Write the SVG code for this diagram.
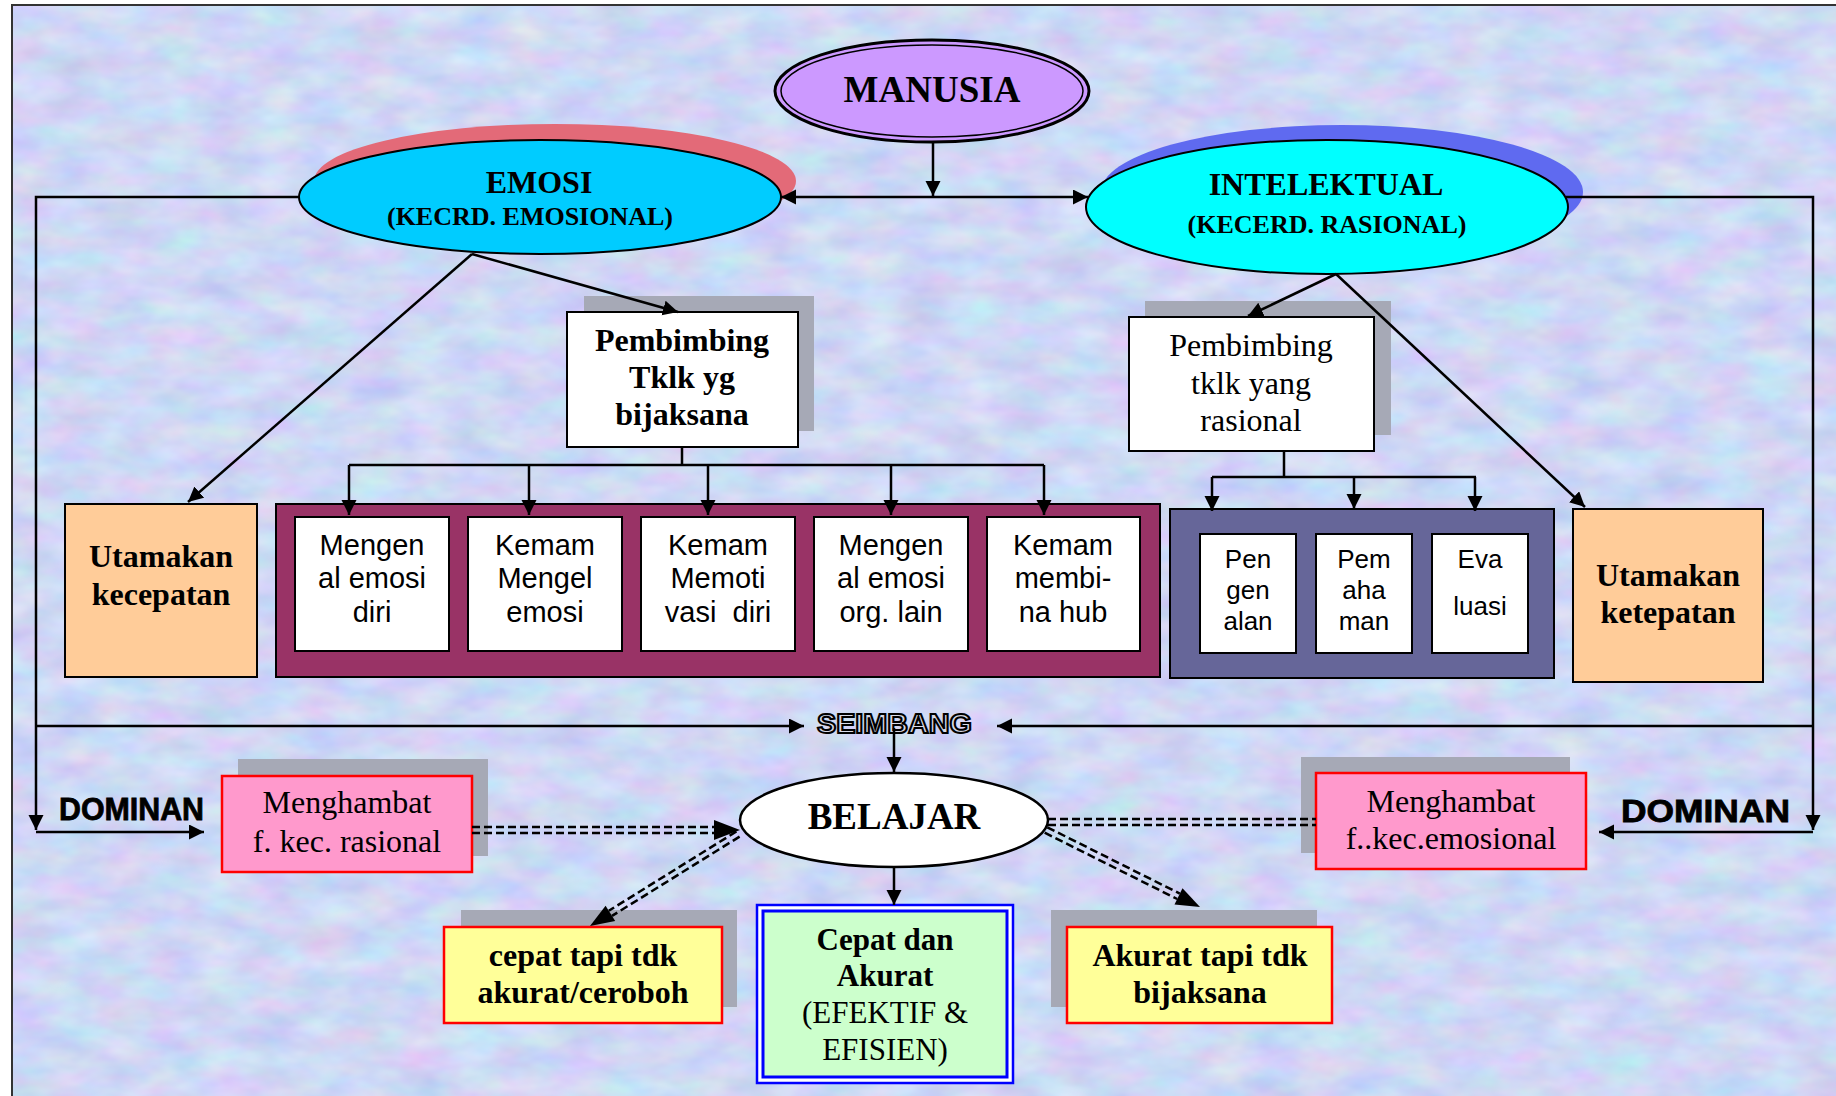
<svg xmlns="http://www.w3.org/2000/svg" width="1836" height="1096" viewBox="0 0 1836 1096">
<style>
.serif{font-family:"Liberation Serif","Times New Roman",serif}
.sans{font-family:"Liberation Sans",Arial,sans-serif}
.b{font-weight:bold}
.c{text-anchor:middle}
.ln{fill:none;stroke:#000;stroke-width:2.5}
.dl{fill:none;stroke:#000;stroke-width:2.5;stroke-dasharray:8 4}
.shadow{fill:#a6a9b6}
.pink{fill:#ff99cc;stroke:#ff0000;stroke-width:2.5}
.yellow{fill:#ffff99;stroke:#ff0000;stroke-width:2.5}
.orange{fill:#ffcc99;stroke:#000;stroke-width:2}
.white{fill:#fff;stroke:#000;stroke-width:2}
.t32{font-size:32px}
.t29{font-size:29px}
.t26{font-size:26px}
</style>
<defs>
<filter id="tex" x="0" y="0" width="100%" height="100%" color-interpolation-filters="sRGB">
<feTurbulence type="fractalNoise" baseFrequency="0.02 0.04" numOctaves="3" seed="7"/>
<feColorMatrix type="matrix" values="0.22 0 0 0 0.7  0 0.2 0 0 0.745  0 0 0.1 0 0.91  0 0 0 0 1"/>
</filter>
<marker id="ah" markerWidth="16" markerHeight="16" refX="15" refY="7.5" orient="auto" markerUnits="userSpaceOnUse">
<path d="M0,0 L15,7.5 L0,15 z" fill="#000"/>
</marker>
</defs>

<g id="background">
<rect x="0" y="0" width="1836" height="1096" fill="#fff"/>
<rect x="12" y="5" width="1824" height="1091" filter="url(#tex)"/>
<path d="M12,1096 V5 H1836" fill="none" stroke="#333" stroke-width="2"/>
</g>

<g id="manusia">
<ellipse cx="932" cy="91" rx="157" ry="51" fill="#cc99ff" stroke="#000" stroke-width="3"/>
<ellipse cx="932" cy="91" rx="151" ry="46" fill="none" stroke="#000" stroke-width="1.5"/>
<text x="932" y="102" class="serif b c" font-size="37">MANUSIA</text>
</g>

<g id="emosi">
<ellipse cx="555" cy="181" rx="241" ry="57" fill="#e36a78"/>
<ellipse cx="540" cy="197" rx="241" ry="57" fill="#00ccff" stroke="#000" stroke-width="2"/>
<text x="539" y="193" class="serif b c t32">EMOSI</text>
<text x="530" y="225" class="serif b c t26">(KECRD. EMOSIONAL)</text>
</g>

<g id="intelektual">
<ellipse cx="1342" cy="192" rx="241" ry="67" fill="#5f6af0"/>
<ellipse cx="1327" cy="207" rx="241" ry="67" fill="#00ffff" stroke="#000" stroke-width="2"/>
<text x="1326" y="195" class="serif b c t32">INTELEKTUAL</text>
<text x="1327" y="233" class="serif b c t26">(KECERD. RASIONAL)</text>
</g>

<g id="pembimbing-bijaksana">
<rect x="584" y="296" width="230" height="135" class="shadow"/>
<rect x="567" y="312" width="231" height="135" class="white"/>
<text class="serif b c t32"><tspan x="682" y="351">Pembimbing</tspan><tspan x="682" y="388">Tklk yg</tspan><tspan x="682" y="425">bijaksana</tspan></text>
</g>

<g id="pembimbing-rasional">
<rect x="1145" y="301" width="246" height="134" class="shadow"/>
<rect x="1129" y="317" width="245" height="134" class="white"/>
<text class="serif c t32"><tspan x="1251" y="356">Pembimbing</tspan><tspan x="1251" y="394">tklk yang</tspan><tspan x="1251" y="431">rasional</tspan></text>
</g>

<g id="utamakan-kecepatan">
<rect x="65" y="504" width="192" height="173" class="orange"/>
<text class="serif b c t32"><tspan x="161" y="567">Utamakan</tspan><tspan x="161" y="605">kecepatan</tspan></text>
</g>

<g id="utamakan-ketepatan">
<rect x="1573" y="509" width="190" height="173" class="orange"/>
<text class="serif b c t32"><tspan x="1668" y="586">Utamakan</tspan><tspan x="1668" y="623">ketepatan</tspan></text>
</g>

<g id="kecerdasan-emosional">
<rect x="276" y="504" width="884" height="173" fill="#993366" stroke="#000" stroke-width="2"/>
<rect x="295" y="517" width="154" height="134" class="white"/>
<rect x="468" y="517" width="154" height="134" class="white"/>
<rect x="641" y="517" width="154" height="134" class="white"/>
<rect x="814" y="517" width="154" height="134" class="white"/>
<rect x="987" y="517" width="153" height="134" class="white"/>
<text class="sans c t29"><tspan x="372" y="555">Mengen</tspan><tspan x="372" y="588">al emosi</tspan><tspan x="372" y="622">diri</tspan></text>
<text class="sans c t29"><tspan x="545" y="555">Kemam</tspan><tspan x="545" y="588">Mengel</tspan><tspan x="545" y="622">emosi</tspan></text>
<text class="sans c t29" xml:space="preserve"><tspan x="718" y="555">Kemam</tspan><tspan x="718" y="588">Memoti</tspan><tspan x="718" y="622">vasi  diri</tspan></text>
<text class="sans c t29"><tspan x="891" y="555">Mengen</tspan><tspan x="891" y="588">al emosi</tspan><tspan x="891" y="622">org. lain</tspan></text>
<text class="sans c t29"><tspan x="1063" y="555">Kemam</tspan><tspan x="1063" y="588">membi-</tspan><tspan x="1063" y="622">na hub</tspan></text>
</g>

<g id="kecerdasan-rasional">
<rect x="1170" y="509" width="384" height="169" fill="#666699" stroke="#000" stroke-width="2"/>
<rect x="1200" y="534" width="96" height="119" class="white"/>
<rect x="1316" y="534" width="96" height="119" class="white"/>
<rect x="1432" y="534" width="96" height="119" class="white"/>
<text class="sans c t26"><tspan x="1248" y="568">Pen</tspan><tspan x="1248" y="599">gen</tspan><tspan x="1248" y="630">alan</tspan></text>
<text class="sans c t26"><tspan x="1364" y="568">Pem</tspan><tspan x="1364" y="599">aha</tspan><tspan x="1364" y="630">man</tspan></text>
<text class="sans c t26"><tspan x="1480" y="568">Eva</tspan><tspan x="1480" y="615">luasi</tspan></text>
</g>

<g id="seimbang">
<text x="817" y="733" class="sans b" font-size="27" textLength="155" lengthAdjust="spacingAndGlyphs" fill="#d8dae8" stroke="#000" stroke-width="2">SEIMBANG</text>
</g>

<g id="dominan-kiri">
<text x="59" y="820" class="sans b" font-size="31" textLength="145" lengthAdjust="spacingAndGlyphs" stroke="#000" stroke-width="0.8">DOMINAN</text>
</g>
<g id="dominan-kanan">
<text x="1621" y="822" class="sans b" font-size="32" textLength="169" lengthAdjust="spacingAndGlyphs" stroke="#000" stroke-width="0.8">DOMINAN</text>
</g>

<g id="menghambat-rasional">
<rect x="238" y="759" width="250" height="97" class="shadow"/>
<rect x="222" y="776" width="250" height="96" class="pink"/>
<text class="serif c t32"><tspan x="347" y="813">Menghambat</tspan><tspan x="347" y="852">f. kec. rasional</tspan></text>
</g>

<g id="menghambat-emosional">
<rect x="1301" y="757" width="269" height="96" class="shadow"/>
<rect x="1316" y="773" width="270" height="96" class="pink"/>
<text class="serif c t32"><tspan x="1451" y="812">Menghambat</tspan><tspan x="1451" y="849">f..kec.emosional</tspan></text>
</g>

<g id="belajar">
<ellipse cx="894" cy="820" rx="154" ry="47" fill="#fff" stroke="#000" stroke-width="2.5"/>
<text x="894" y="829" class="serif b c" font-size="37">BELAJAR</text>
</g>

<g id="cepat-tapi">
<rect x="461" y="910" width="276" height="97" class="shadow"/>
<rect x="444" y="927" width="278" height="96" class="yellow"/>
<text class="serif b c t32"><tspan x="583" y="966">cepat tapi tdk</tspan><tspan x="583" y="1003">akurat/ceroboh</tspan></text>
</g>

<g id="akurat-tapi">
<rect x="1051" y="910" width="266" height="97" class="shadow"/>
<rect x="1067" y="927" width="265" height="96" class="yellow"/>
<text class="serif b c t32"><tspan x="1200" y="966">Akurat tapi tdk</tspan><tspan x="1200" y="1003">bijaksana</tspan></text>
</g>

<g id="cepat-akurat">
<rect x="757" y="905" width="256" height="178" fill="#fff" stroke="#0000ff" stroke-width="2.5"/>
<rect x="763" y="911" width="244" height="166" fill="#ccffcc" stroke="#0000ff" stroke-width="3"/>
<text class="serif c" font-size="31"><tspan x="885" y="950" font-weight="bold">Cepat dan</tspan><tspan x="885" y="986" font-weight="bold">Akurat</tspan><tspan x="885" y="1023">(EFEKTIF &amp;</tspan><tspan x="885" y="1060">EFISIEN)</tspan></text>
</g>

<g id="connectors">
<path class="ln" d="M933,142 V196" marker-end="url(#ah)"/>
<path class="ln" d="M933,197 H781" marker-end="url(#ah)"/>
<path class="ln" d="M933,197 H1088" marker-end="url(#ah)"/>
<path class="ln" d="M299,197 H36 V830" marker-end="url(#ah)"/>
<path class="ln" d="M36,832 H204" marker-end="url(#ah)"/>
<path class="ln" d="M36,726 H804" marker-end="url(#ah)"/>
<path class="ln" d="M1566,197 H1813 V830" marker-end="url(#ah)"/>
<path class="ln" d="M1813,832 H1599" marker-end="url(#ah)"/>
<path class="ln" d="M1813,726 H997" marker-end="url(#ah)"/>
<path class="ln" d="M894,728 V772" marker-end="url(#ah)"/>
<path class="ln" d="M894,868 V905" marker-end="url(#ah)"/>
<path class="ln" d="M472,254 L678,312" marker-end="url(#ah)"/>
<path class="ln" d="M472,254 L188,502" marker-end="url(#ah)"/>
<path class="ln" d="M682,447 V465 M349,465 H1044"/>
<path class="ln" d="M349,465 V515" marker-end="url(#ah)"/>
<path class="ln" d="M529,465 V515" marker-end="url(#ah)"/>
<path class="ln" d="M708,465 V515" marker-end="url(#ah)"/>
<path class="ln" d="M891,465 V515" marker-end="url(#ah)"/>
<path class="ln" d="M1044,465 V515" marker-end="url(#ah)"/>
<path class="ln" d="M1336,274 L1248,316" marker-end="url(#ah)"/>
<path class="ln" d="M1336,274 L1585,507" marker-end="url(#ah)"/>
<path class="ln" d="M1284,451 V477 M1212,477 H1476"/>
<path class="ln" d="M1212,477 V511" marker-end="url(#ah)"/>
<path class="ln" d="M1354,477 V509" marker-end="url(#ah)"/>
<path class="ln" d="M1475,477 V511" marker-end="url(#ah)"/>
<path class="dl" d="M472,827 H716 M472,833 H716"/>
<polygon points="740,830 714,820 714,840" fill="#000"/>
<path class="dl" d="M736.4,831.5 L608.8,910.8 M739.6,836.6 L612,915.9"/>
<polygon points="590,926 605.6,905.7 615.2,920.9" fill="#000"/>
<path class="dl" d="M1048,819 H1316 M1048,825 H1316"/>
<path class="dl" d="M1044.7,832.7 L1177.2,899 M1047.3,827.3 L1179.8,893.6"/>
<polygon points="1200,907 1174.5,904.4 1182.5,888.3" fill="#000"/>
</g>
</svg>
